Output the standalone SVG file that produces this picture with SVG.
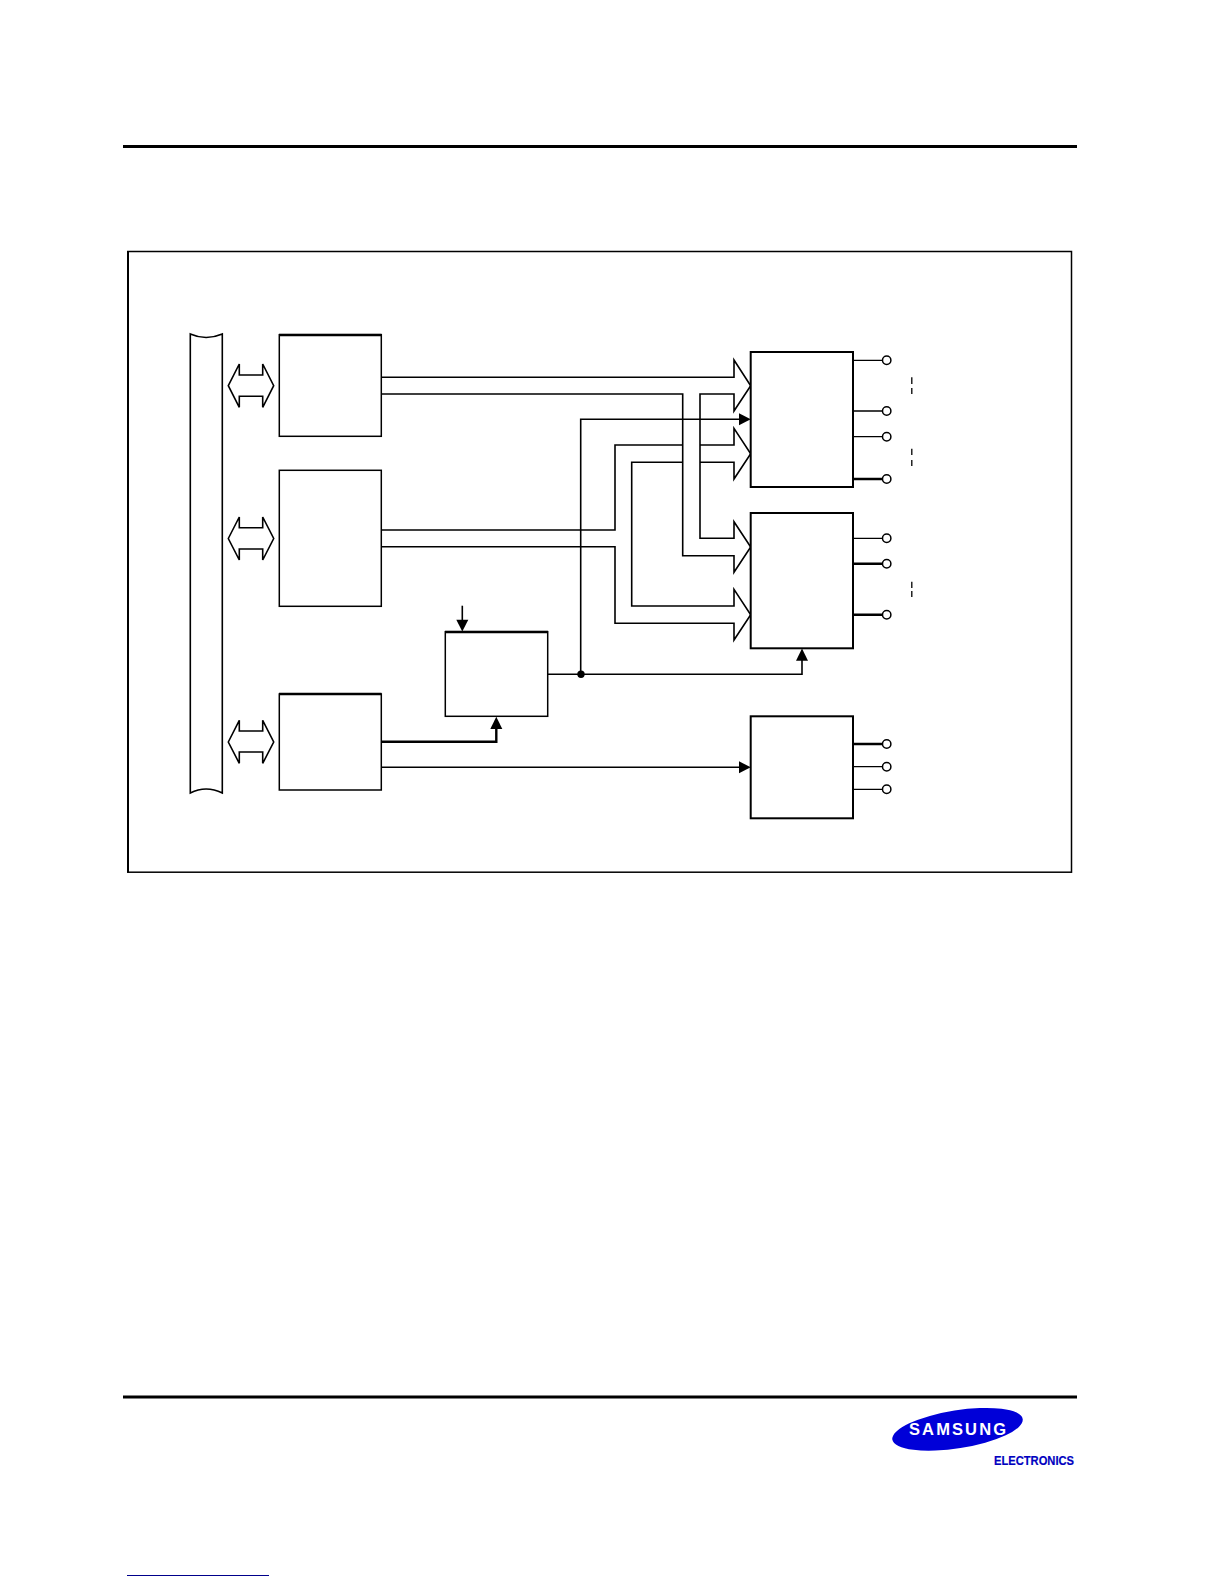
<svg xmlns="http://www.w3.org/2000/svg" width="1224" height="1584" viewBox="0 0 1224 1584">
<defs>
<style>
.box{fill:#fff;stroke:#000;stroke-width:1.5}
.box2{fill:#fff;stroke:#000;stroke-width:2}
.top{stroke:#000;stroke-width:2.500}
.ln{fill:none;stroke:#000;stroke-width:1.600}
.thin{fill:none;stroke:#000;stroke-width:1.300}
.thk{fill:none;stroke:#000;stroke-width:2.400}
.pin{fill:#fff;stroke:#000;stroke-width:1.500}
.head{fill:#000;stroke:none}
.rule{stroke:#000;stroke-width:3}
</style>
</defs>
<rect width="1224" height="1584" fill="#fff"/>
<line class="rule" x1="123" y1="146.500" x2="1077" y2="146.500"/>
<line class="rule" x1="123" y1="1397" x2="1077" y2="1397"/>
<rect id="frame" x="127.800" y="251.500" width="943.700" height="620.700" fill="none" stroke="#000" stroke-width="1.500"/>
<line x1="128" y1="251" x2="128" y2="872.500" stroke="#000" stroke-width="2"/>
<g id="bus"><path class="ln" d="M190.300 334Q206 341 222.300 334V793Q206 785 190.300 793Z"/></g>
<g id="bus-arrows">
<path id="ba1" class="ln" d="M228.300 385.700L239.300 364V375H262.700V364L273.700 385.700L262.700 407.300V396.300H239.300V407.300Z"/>
<path id="ba2" class="ln" d="M228.300 538.500L239.300 517V527.700H262.700V517L273.700 538.500L262.700 560V549H239.300V560Z"/>
<path id="ba3" class="ln" d="M228.300 742L239.300 720.300V731H262.700V720.300L273.700 742L262.700 763.300V752H239.300V763.300Z"/>
</g>
<g id="connectors">
<path class="ln" d="M381.300 377.300H734V360L750.700 385.700L734 411V394H700V538.300H734V521.700L750.700 547L734 572.300V555.700H682.700V394H381.300"/>
<path class="ln" d="M381.300 530H615V445H682.700M700 445H734V428.300L750.700 453.700L734 479V462.300H700M682.700 462.300H631.700V606H734V589.300L750.700 614.700L734 640V623.300H615V546.700H381.300"/>
<path class="ln" d="M580.700 530V419.300H740"/>
<path class="ln" d="M580.700 530V674.300"/>
<path class="head" d="M750.700 419.300L739 413.300V425.300Z"/>
<path class="ln" d="M547.700 674.300H802V660"/>
<circle class="head" cx="581" cy="674.300" r="3.700"/>
<path class="head" d="M802 648.600L796 660.700H808Z"/>
<path class="ln" d="M462.300 605.700V620"/>
<path class="head" d="M462.300 631.500L456.300 619.700H468.300Z"/>
<path class="thk" d="M381.300 741.700H496.300V728"/>
<path class="head" d="M496.300 716.800L490.300 729H502.300Z"/>
<path class="ln" d="M381.300 767.300H740"/>
<path class="head" d="M750.700 767.300L739 761.300V773.300Z"/>
</g>
<g id="n1"><rect class="box" x="279.300" y="334.700" width="102" height="101.600"/><line class="top" x1="279" y1="335" x2="381.500" y2="335"/></g>
<g id="n2"><rect class="box" x="279.300" y="470.300" width="102" height="136"/></g>
<g id="n3"><rect class="box" x="279.300" y="694" width="102" height="96"/><line class="top" x1="279" y1="694" x2="381.500" y2="694"/></g>
<g id="n4"><rect class="box" x="445.300" y="631.700" width="102.400" height="84.600"/><line class="top" x1="445" y1="632" x2="548" y2="632"/></g>
<g id="n5"><rect class="box2" x="750.700" y="352" width="102.300" height="135"/></g>
<g id="n6"><rect class="box2" x="750.700" y="513" width="102.300" height="135.300"/></g>
<g id="n7"><rect class="box2" x="750.700" y="716.300" width="102.300" height="102"/></g>
<g id="pins">
<path class="thin" d="M853 360.300H883M853 411H883M853 436.700H883M853 538.300H883M853 766.700H883M853 789.300H883"/>
<path class="thk" d="M853 479H883M853 563.700H883M853 614.700H883M853 744H883"/>
<circle class="pin" cx="886.700" cy="360.300" r="4.200"/>
<circle class="pin" cx="886.700" cy="411" r="4.200"/>
<circle class="pin" cx="886.700" cy="436.700" r="4.200"/>
<circle class="pin" cx="886.700" cy="479" r="4.200"/>
<circle class="pin" cx="886.700" cy="538.300" r="4.200"/>
<circle class="pin" cx="886.700" cy="563.700" r="4.200"/>
<circle class="pin" cx="886.700" cy="614.700" r="4.200"/>
<circle class="pin" cx="886.700" cy="744" r="4.200"/>
<circle class="pin" cx="886.700" cy="766.700" r="4.200"/>
<circle class="pin" cx="886.700" cy="789.300" r="4.200"/>
<path class="thin" d="M911.800 377.300V384M911.800 388V394M911.800 448.700V455M911.800 460V466M911.800 581.700V588M911.800 591V597"/>
</g>
<g id="logo">
<ellipse cx="957.500" cy="1429.300" rx="66" ry="19" fill="#0000d8" transform="rotate(-9 957.500 1429.300)"/>
<text x="909" y="1435" font-family="Liberation Sans, sans-serif" font-weight="700" font-size="16.500" fill="#fff" textLength="97" lengthAdjust="spacing">SAMSUNG</text>
<text x="994" y="1464.800" font-family="Liberation Sans, sans-serif" font-weight="700" font-size="13" fill="#0000c0" stroke="#0000c0" stroke-width="0.200" textLength="80" lengthAdjust="spacingAndGlyphs">ELECTRONICS</text>
</g>
<line x1="127" y1="1575.500" x2="269" y2="1575.500" stroke="#00008b" stroke-width="1"/>
</svg>
